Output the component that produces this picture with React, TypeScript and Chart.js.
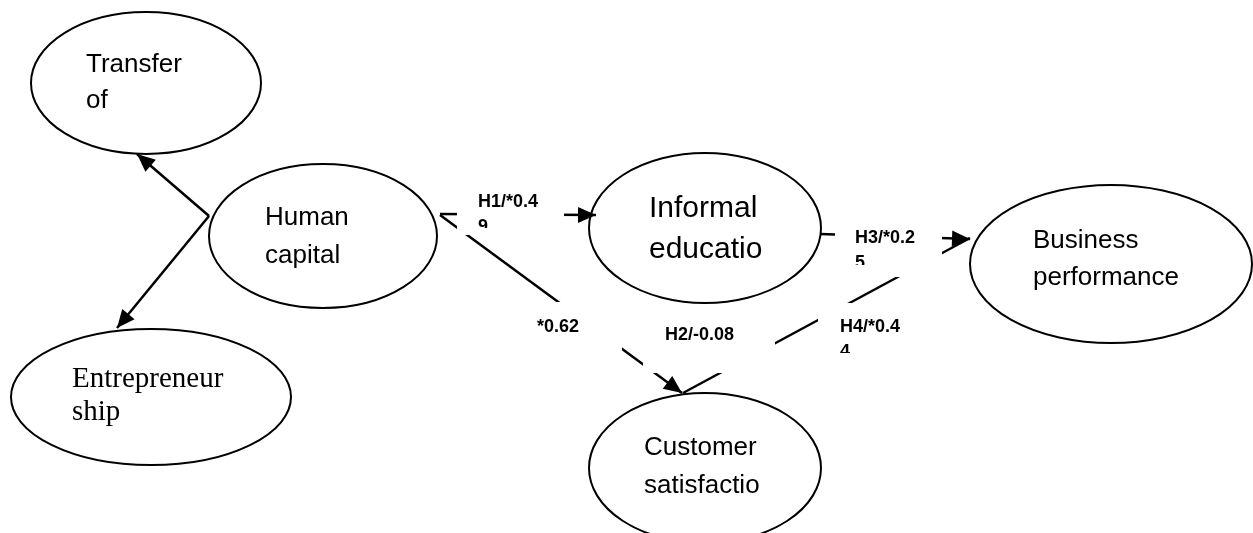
import React, { useEffect, useRef } from "react";
import { Chart, registerables } from "chart.js";

Chart.register(...registerables);

// ---- Diagram data ----
const nodeNames = [
  "Transfer of",
  "Human capital",
  "Entrepreneurship",
  "Informal education",
  "Customer satisfaction",
  "Business performance",
];
const nodeLines = [
  ["Transfer", "of"],
  ["Human", "capital"],
  ["Entrepreneur", "ship"],
  ["Informal", "educatio"],
  ["Customer", "satisfactio"],
  ["Business", "performance"],
];
const nodeCx = [146, 323, 151, 705, 705, 1111];
const nodeCy = [83, 236, 397, 228, 468, 264];
const nodeRx = [115, 114, 140, 116, 116, 141];
const nodeRy = [71, 72, 68, 75, 75, 79];

// path segments (from -> to), arrow at the "to" end
const pathFromX = [209, 209, 440, 440, 820, 683];
const pathFromY = [216, 216, 214, 215, 234, 393];
const pathToX = [137, 117, 596, 682, 970, 970];
const pathToY = [154, 328, 215, 393, 239, 238];
const pathArrow = [true, true, true, true, true, false];

// path coefficient labels
const pathLabels = [
  ["H1/*0.4", "9"],
  ["*0.62"],
  ["H2/-0.08"],
  ["H3/*0.2", "5"],
  ["H4/*0.4", "4"],
];

// ---- layout (pixels in data space) ----
const nodeTextX = [86, 265, 72, 649, 644, 1033];
const nodeTextY = [72, 225, 387, 217, 455, 248];
const nodeLineGap = [36, 38, 33, 41, 38, 37];
const nodeFont = [
  "26px 'Liberation Sans', Arial, sans-serif",
  "26px 'Liberation Sans', Arial, sans-serif",
  "29px 'Liberation Serif', 'Times New Roman', serif",
  "30px 'Liberation Sans', Arial, sans-serif",
  "26px 'Liberation Sans', Arial, sans-serif",
  "26px 'Liberation Sans', Arial, sans-serif",
];

const boxX0 = [457, 528, 643, 835, 818];
const boxY0 = [186, 302, 304, 218, 303];
const boxX1 = [564, 622, 775, 942, 930];
const boxY1 = [235, 350, 373, 277, 362];
const labelX = [478, 537, 665, 855, 840];
const labelY = [207, 332, 340, 243, 332];
const labelClipY = [228, 350, 373, 265, 353];

const diagramPlugin = {
  id: "diagram",
  beforeDatasetsDraw(chart: any) {
    const { ctx, scales } = chart;
    const sx = scales.x;
    const sy = scales.y;
    ctx.save();
    for (let i = 0; i < nodeNames.length; i++) {
      const px = sx.getPixelForValue(nodeCx[i]);
      const py = sy.getPixelForValue(nodeCy[i]);
      const rx = Math.abs(sx.getPixelForValue(nodeCx[i] + nodeRx[i]) - px);
      const ry = Math.abs(sy.getPixelForValue(nodeCy[i] + nodeRy[i]) - py);
      ctx.beginPath();
      ctx.ellipse(px, py, rx, ry, 0, 0, Math.PI * 2);
      ctx.fillStyle = "#ffffff";
      ctx.fill();
      ctx.lineWidth = 2;
      ctx.strokeStyle = "#000000";
      ctx.stroke();
    }
    ctx.restore();
  },
  afterDatasetsDraw(chart: any) {
    const { ctx, scales } = chart;
    const sx = scales.x;
    const sy = scales.y;
    ctx.save();
    // arrowheads
    for (let i = 0; i < pathFromX.length; i++) {
      if (!pathArrow[i]) continue;
      const x0 = sx.getPixelForValue(pathFromX[i]);
      const y0 = sy.getPixelForValue(pathFromY[i]);
      const x1 = sx.getPixelForValue(pathToX[i]);
      const y1 = sy.getPixelForValue(pathToY[i]);
      const a = Math.atan2(y1 - y0, x1 - x0);
      const len = 18;
      const hw = 8;
      const bx = x1 - len * Math.cos(a);
      const by = y1 - len * Math.sin(a);
      ctx.beginPath();
      ctx.moveTo(x1, y1);
      ctx.lineTo(bx + hw * Math.sin(a), by - hw * Math.cos(a));
      ctx.lineTo(bx - hw * Math.sin(a), by + hw * Math.cos(a));
      ctx.closePath();
      ctx.fillStyle = "#000000";
      ctx.fill();
    }
    // label boxes (white) + labels
    for (let i = 0; i < pathLabels.length; i++) {
      const l = sx.getPixelForValue(boxX0[i]);
      const r = sx.getPixelForValue(boxX1[i]);
      const t = sy.getPixelForValue(boxY0[i]);
      const b = sy.getPixelForValue(boxY1[i]);
      ctx.fillStyle = "#ffffff";
      ctx.fillRect(l, t, r - l, b - t);
      ctx.save();
      const cb = sy.getPixelForValue(labelClipY[i]);
      ctx.beginPath();
      ctx.rect(l, t, r - l, cb - t);
      ctx.clip();
      ctx.fillStyle = "#000000";
      ctx.font = "bold 18px 'Liberation Sans', Arial, sans-serif";
      ctx.textBaseline = "alphabetic";
      ctx.textAlign = "left";
      const tx = sx.getPixelForValue(labelX[i]);
      const ty = sy.getPixelForValue(labelY[i]);
      pathLabels[i].forEach((s, k) => ctx.fillText(s, tx, ty + k * 25));
      ctx.restore();
    }
    // node texts
    for (let i = 0; i < nodeNames.length; i++) {
      ctx.fillStyle = "#000000";
      ctx.font = nodeFont[i];
      ctx.textAlign = "left";
      ctx.textBaseline = "alphabetic";
      const tx = sx.getPixelForValue(nodeTextX[i]);
      const ty = sy.getPixelForValue(nodeTextY[i]);
      nodeLines[i].forEach((s, k) => ctx.fillText(s, tx, ty + k * nodeLineGap[i]));
    }
    ctx.restore();
  },
};

export default function App() {
  const ref = useRef<HTMLCanvasElement | null>(null);
  useEffect(() => {
    document.body.style.margin = "0";
    if (!ref.current) return;
    const datasets = pathFromX.map((_, i) => ({
      label: "path" + i,
      data: [
        { x: pathFromX[i], y: pathFromY[i] },
        { x: pathToX[i], y: pathToY[i] },
      ],
      showLine: true,
      borderColor: "#000000",
      backgroundColor: "#000000",
      borderWidth: 2.5,
      pointRadius: 0,
      fill: false,
    }));
    const chart = new Chart(ref.current, {
      type: "scatter",
      data: { datasets },
      options: {
        animation: false,
        responsive: false,
        maintainAspectRatio: false,
        layout: { padding: 0 },
        plugins: { legend: { display: false }, tooltip: { enabled: false } },
        scales: {
          x: { type: "linear", min: 0, max: 1253, display: false },
          y: { type: "linear", min: 0, max: 533, reverse: true, display: false },
        },
      },
      plugins: [diagramPlugin],
    });
    return () => chart.destroy();
  }, []);
  return (
    <div style={{ width: 1253, height: 533, background: "#fff" }}>
      <canvas ref={ref} width={1253} height={533} style={{ display: "block" }} />
    </div>
  );
}
